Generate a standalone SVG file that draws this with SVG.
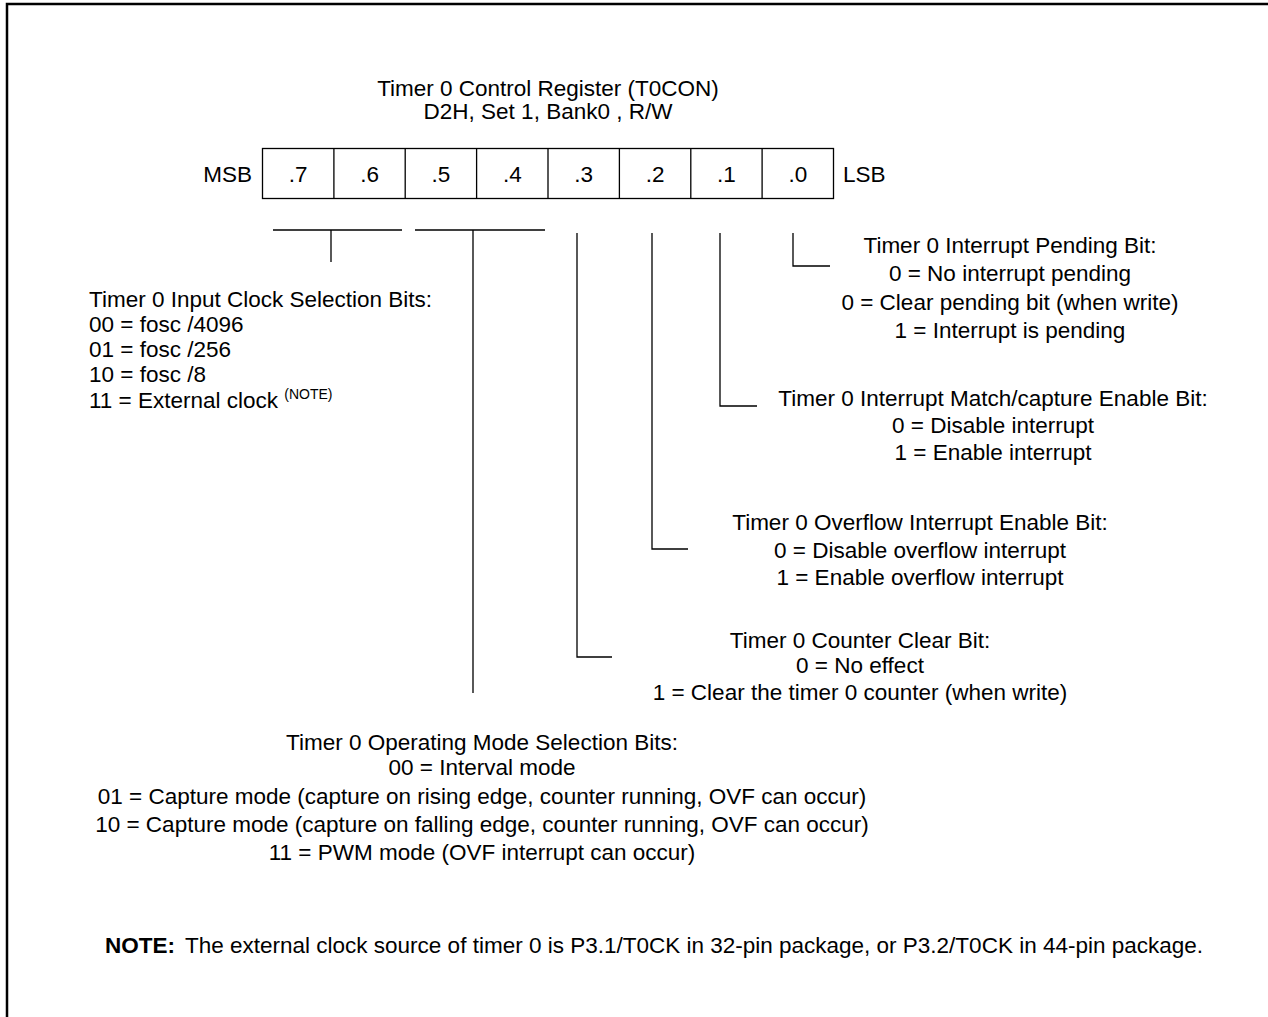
<svg xmlns="http://www.w3.org/2000/svg" width="1268" height="1017" viewBox="0 0 1268 1017">
<style>
text{font-family:"Liberation Sans",Arial,sans-serif;font-size:22.5px;fill:#000}
.m{text-anchor:middle}
.ln{stroke:#000;stroke-width:1.3;fill:none}
</style>
<rect x="0" y="0" width="1268" height="1017" fill="#fff"/>
<path d="M7,1020 V4 H1270" stroke="#000" stroke-width="2.5" fill="none"/>
<g id="title">
<text class="m" x="548" y="96">Timer 0 Control Register (T0CON)</text>
<text class="m" x="548" y="119">D2H, Set 1, Bank0 , R/W</text>
</g>
<g id="register">
<rect class="ln" x="262.5" y="148.5" width="571" height="50"/>
<path class="ln" d="M333.9,148.5V198.5M405.2,148.5V198.5M476.6,148.5V198.5M548,148.5V198.5M619.4,148.5V198.5M690.8,148.5V198.5M762.1,148.5V198.5"/>
<text x="252" y="182" text-anchor="end">MSB</text>
<text x="843" y="182">LSB</text>
<text class="m" x="298.2" y="182">.7</text>
<text class="m" x="369.6" y="182">.6</text>
<text class="m" x="440.9" y="182">.5</text>
<text class="m" x="512.3" y="182">.4</text>
<text class="m" x="583.7" y="182">.3</text>
<text class="m" x="655.1" y="182">.2</text>
<text class="m" x="726.5" y="182">.1</text>
<text class="m" x="797.8" y="182">.0</text>
</g>
<g id="connectors">
<path class="ln" d="M273,230H402M331,230V262"/>
<path class="ln" d="M415,230H545M473,230V693"/>
<path class="ln" d="M577,233V657H612"/>
<path class="ln" d="M652,233V549H688"/>
<path class="ln" d="M720,233V406H757"/>
<path class="ln" d="M793,233V266H830"/>
</g>
<g id="bit0">
<text class="m" x="1010" y="253">Timer 0 Interrupt Pending Bit:</text>
<text class="m" x="1010" y="281">0 = No interrupt pending</text>
<text class="m" x="1010" y="310">0 = Clear pending bit (when write)</text>
<text class="m" x="1010" y="338">1 = Interrupt is pending</text>
</g>
<g id="bit1">
<text class="m" x="993" y="406">Timer 0 Interrupt Match/capture Enable Bit:</text>
<text class="m" x="993" y="433">0 = Disable interrupt</text>
<text class="m" x="993" y="460">1 = Enable interrupt</text>
</g>
<g id="bit2">
<text class="m" x="920" y="530">Timer 0 Overflow Interrupt Enable Bit:</text>
<text class="m" x="920" y="558">0 = Disable overflow interrupt</text>
<text class="m" x="920" y="585">1 = Enable overflow interrupt</text>
</g>
<g id="bit3">
<text class="m" x="860" y="648">Timer 0 Counter Clear Bit:</text>
<text class="m" x="860" y="673">0 = No effect</text>
<text class="m" x="860" y="700">1 = Clear the timer 0 counter (when write)</text>
</g>
<g id="bits54">
<text class="m" x="482" y="750">Timer 0 Operating Mode Selection Bits:</text>
<text class="m" x="482" y="775">00 = Interval mode</text>
<text class="m" x="482" y="804">01 = Capture mode (capture on rising edge, counter running, OVF can occur)</text>
<text class="m" x="482" y="832">10 = Capture mode (capture on falling edge, counter running, OVF can occur)</text>
<text class="m" x="482" y="860">11 = PWM mode (OVF interrupt can occur)</text>
</g>
<g id="bits76">
<text x="89" y="307">Timer 0 Input Clock Selection Bits:</text>
<text x="89" y="332">00 = fosc /4096</text>
<text x="89" y="357">01 = fosc /256</text>
<text x="89" y="382">10 = fosc /8</text>
<text x="89" y="408">11 = External clock <tspan font-size="14" dy="-9">(NOTE)</tspan></text>
</g>
<g id="note">
<text x="105" y="953" font-weight="bold" font-size="19">NOTE:</text>
<text x="185" y="953" font-size="22.1">The external clock source of timer 0 is P3.1/T0CK in 32-pin package, or P3.2/T0CK in 44-pin package.</text>
</g>
</svg>
